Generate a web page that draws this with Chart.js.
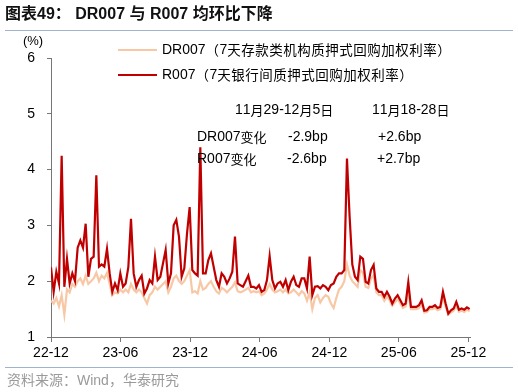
<!DOCTYPE html>
<html>
<head>
<meta charset="utf-8">
<script src="https://cdn.jsdelivr.net/npm/chart.js@4.4.1/dist/chart.umd.min.js"></script>
<style>
  html,body{margin:0;padding:0;background:#fff;}
  #wrap{position:relative;width:518px;height:392px;overflow:hidden;background:#fff;}
  #c{position:absolute;left:0;top:0;}
  .title{position:absolute;left:5px;top:3px;font:bold 16px 'Liberation Sans','Noto Sans CJK SC',sans-serif;color:#111;white-space:nowrap;line-height:22px;}
  .rule{position:absolute;left:5px;width:508px;height:0;border-top:1.5px solid #9fb4cc;}
  .src{position:absolute;left:7px;top:372px;font:14px 'Liberation Sans','Noto Sans CJK SC',sans-serif;color:#9a9a9a;white-space:nowrap;line-height:16px;}
</style>
</head>
<body>
<div id="wrap">
  <canvas id="c" width="518" height="392"></canvas>
  <div class="title">图表49： DR007 与 R007 均环比下降</div>
  <div class="rule" style="top:30px"></div>
  <div class="rule" style="top:367px"></div>
  <div class="src">资料来源：Wind，华泰研究</div>
</div>
<script>
// ---------------- DATA ----------------
const startDate = '2022-12-01';          // first weekly observation
const stepDays = 7;                       // weekly observations
const axisMonths = ['22-12','23-06','23-12','24-06','24-12','25-06','25-12'];
const yTicks = [1,2,3,4,5,6];
const seriesNames = ['DR007','R007'];
const seriesDesc = ['（7天存款类机构质押式回购加权利率）','（7天银行间质押式回购加权利率）'];

const r007 = [
  2.25,1.81,2.17,1.96,4.25,1.9,2.4,1.96,2.14,2.0,
  2.6,2.73,2.6,3.03,2.08,2.4,2.44,3.9,2.26,2.3,
  2.26,2.58,2.14,1.81,1.96,1.84,2.14,1.9,1.96,2.25,
  3.12,2.14,1.9,2.02,2.1,1.78,1.87,2.02,1.96,2.44,
  2.02,2.08,2.32,2.56,1.96,2.14,3.0,3.1,2.8,2.08,
  2.23,2.85,3.33,2.2,2.14,2.1,4.4,2.14,2.14,2.38,
  2.5,2.26,2.02,1.9,2.14,2.08,1.96,2.05,2.17,2.8,
  1.96,1.93,1.9,2.0,2.1,1.9,1.9,1.87,1.93,1.81,
  1.84,2.02,2.45,2.02,1.87,1.96,1.99,1.9,2.02,1.84,
  1.99,2.08,1.93,1.9,2.05,2.05,1.87,2.44,1.75,1.9,
  1.91,1.87,1.93,1.9,1.84,1.93,1.96,2.08,2.14,2.14,
  2.2,4.2,3.15,2.3,2.08,2.02,2.44,2.4,1.99,1.96,
  2.2,2.29,1.87,1.81,1.81,1.72,1.81,1.72,1.6,1.69,
  1.75,1.66,1.57,1.6,1.98,1.54,1.54,1.54,1.57,1.66,
  1.47,1.48,1.54,1.54,1.57,1.52,1.54,1.81,1.6,1.42,
  1.48,1.51,1.63,1.49,1.51,1.49,1.53,1.5
];
const dr007 = [
  1.65,1.6,1.7,1.55,1.75,1.4,1.85,1.8,1.95,1.9,
  2.0,2.05,1.95,2.1,1.95,2.0,2.05,2.15,2.0,2.1,
  2.05,2.15,1.95,1.75,1.8,1.78,1.85,1.8,1.85,1.8,
  1.95,1.85,1.8,1.85,1.8,1.7,1.6,1.75,1.8,1.9,
  1.85,1.9,1.95,2.0,1.8,1.9,2.05,2.1,2.0,1.95,
  2.0,2.1,2.2,1.8,1.82,1.78,2.0,1.85,1.88,1.95,
  2.0,1.9,1.82,1.78,1.88,1.85,1.8,1.85,1.9,1.98,
  1.82,1.8,1.82,1.85,1.88,1.8,1.82,1.8,1.82,1.75,
  1.78,1.85,1.95,1.85,1.8,1.82,1.85,1.8,1.85,1.78,
  1.8,1.85,1.8,1.75,1.82,1.78,1.65,1.8,1.5,1.7,
  1.75,1.62,1.7,1.75,1.72,1.6,1.52,1.7,1.85,1.9,
  2.0,2.3,2.1,2.0,1.95,1.9,2.2,2.15,1.9,1.88,
  2.05,2.1,1.8,1.75,1.75,1.65,1.72,1.66,1.56,1.62,
  1.68,1.6,1.52,1.55,1.8,1.5,1.5,1.5,1.52,1.58,
  1.44,1.45,1.5,1.5,1.52,1.48,1.5,1.7,1.55,1.4,
  1.44,1.47,1.56,1.45,1.47,1.45,1.49,1.46
];

const periodHeaders = ['11月29-12月5日','11月18-28日'];
const rowLabels = ['DR007变化','R007变化'];
const changes = [['-2.9bp','+2.6bp'],['-2.6bp','+2.7bp']];

// ---------------- helpers ----------------
const DAY = 86400000;
const t0 = Date.parse(startDate + 'T00:00:00Z');
const dayOffsets = r007.map((_, i) => i * stepDays);
const monthTickDays = axisMonths.map(s => {
  const yy = 2000 + parseInt(s.slice(0,2),10), mm = parseInt(s.slice(3),10);
  return Math.round((Date.UTC(yy, mm-1, 1) - t0) / DAY);
});
const tickLabelMap = {};
monthTickDays.forEach((d,i) => tickLabelMap[d] = axisMonths[i]);
const toXY = arr => arr.map((v,i) => ({x: dayOffsets[i], y: v}));

const LATIN = "'Liberation Sans', Arial, sans-serif";
const CJK = "'Noto Sans CJK SC', sans-serif";
function isCJK(ch){ const c = ch.codePointAt(0); return c >= 0x2E80; }
function drawMixed(ctx, text, x, y, latinSize, cjkSize, cjkAdv){
  let cx = x;
  for (const ch of text){
    if (isCJK(ch)){
      ctx.font = cjkSize + 'px ' + CJK;
      ctx.fillText(ch, cx, y);
      cx += cjkAdv != null ? cjkAdv : ctx.measureText(ch).width;
    } else {
      ctx.font = latinSize + 'px ' + LATIN;
      ctx.fillText(ch, cx, y);
      cx += ctx.measureText(ch).width;
    }
  }
  return cx;
}

const decor = {
  id: 'decor',
  afterDraw(chart){
    const ctx = chart.ctx;
    ctx.save();
    ctx.textBaseline = 'middle';
    ctx.fillStyle = '#000';
    ctx.font = '13px ' + LATIN;
    ctx.textAlign = 'center';
    ctx.fillText('(%)', 33, 41);
    ctx.textAlign = 'left';
    // legend
    const ds = chart.data.datasets;
    const legendY = [50, 75];
    [0,1].forEach(i => {
      const d = ds.find(z => z.label === seriesNames[i]);
      ctx.strokeStyle = d.borderColor;
      ctx.lineWidth = 2;
      ctx.beginPath(); ctx.moveTo(118, legendY[i]); ctx.lineTo(157, legendY[i]); ctx.stroke();
      ctx.fillStyle = '#000';
      const e = drawMixed(ctx, seriesNames[i], 162, legendY[i], 14, 13.5);
      drawMixed(ctx, seriesDesc[i], e, legendY[i], 14, 13.5, 14);
    });
    // annotation table
    drawMixed(ctx, periodHeaders[0], 235, 110, 14, 13);
    drawMixed(ctx, periodHeaders[1], 372, 110, 14, 13);
    const rowY = [137, 159];
    const colX = [[288, 378], [287, 377]];
    rowLabels.forEach((lab, r) => {
      drawMixed(ctx, lab, 197, rowY[r], 14, 13);
      changes[r].forEach((v, c) => drawMixed(ctx, v, colX[r][c], rowY[r], 14, 13));
    });
    ctx.restore();
  }
};

new Chart(document.getElementById('c'), {
  type: 'line',
  data: {
    datasets: [
      { label: seriesNames[1], data: toXY(r007), borderColor: '#C00000', borderWidth: 2.2,
        pointRadius: 0, tension: 0, order: 0, fill: false },
      { label: seriesNames[0], data: toXY(dr007), borderColor: '#F8C8A6', borderWidth: 2.2,
        pointRadius: 0, tension: 0, order: 1, fill: false }
    ]
  },
  options: {
    responsive: false,
    animation: false,
    devicePixelRatio: 1,
    layout: { padding: { left: 0, right: 48, top: 58, bottom: 0 } },
    plugins: { legend: { display: false }, tooltip: { enabled: false } },
    scales: {
      x: {
        type: 'linear',
        min: 0, max: 1100,
        afterBuildTicks: s => { s.ticks = monthTickDays.map(v => ({ value: v })); },
        afterFit: s => { s.height = 55; },
        ticks: {
          autoSkip: false, maxRotation: 0, padding: 3,
          color: '#000', font: { family: 'Liberation Sans', size: 14 },
          callback: v => tickLabelMap[v] ?? ''
        },
        grid: { drawOnChartArea: false, drawTicks: true, tickLength: 5, color: '#777', lineWidth: 1 },
        border: { display: true, color: '#777', width: 1 }
      },
      y: {
        min: 1, max: 6,
        afterBuildTicks: s => { s.ticks = yTicks.map(v => ({ value: v })); },
        afterFit: s => { s.width = 51; },
        ticks: {
          padding: 12, color: '#000', font: { family: 'Liberation Sans', size: 14 },
          callback: v => String(v)
        },
        grid: { drawOnChartArea: false, drawTicks: true, tickLength: 4, color: '#777', lineWidth: 1 },
        border: { display: true, color: '#777', width: 1 }
      }
    }
  },
  plugins: [decor]
});
</script>
</body>
</html>
